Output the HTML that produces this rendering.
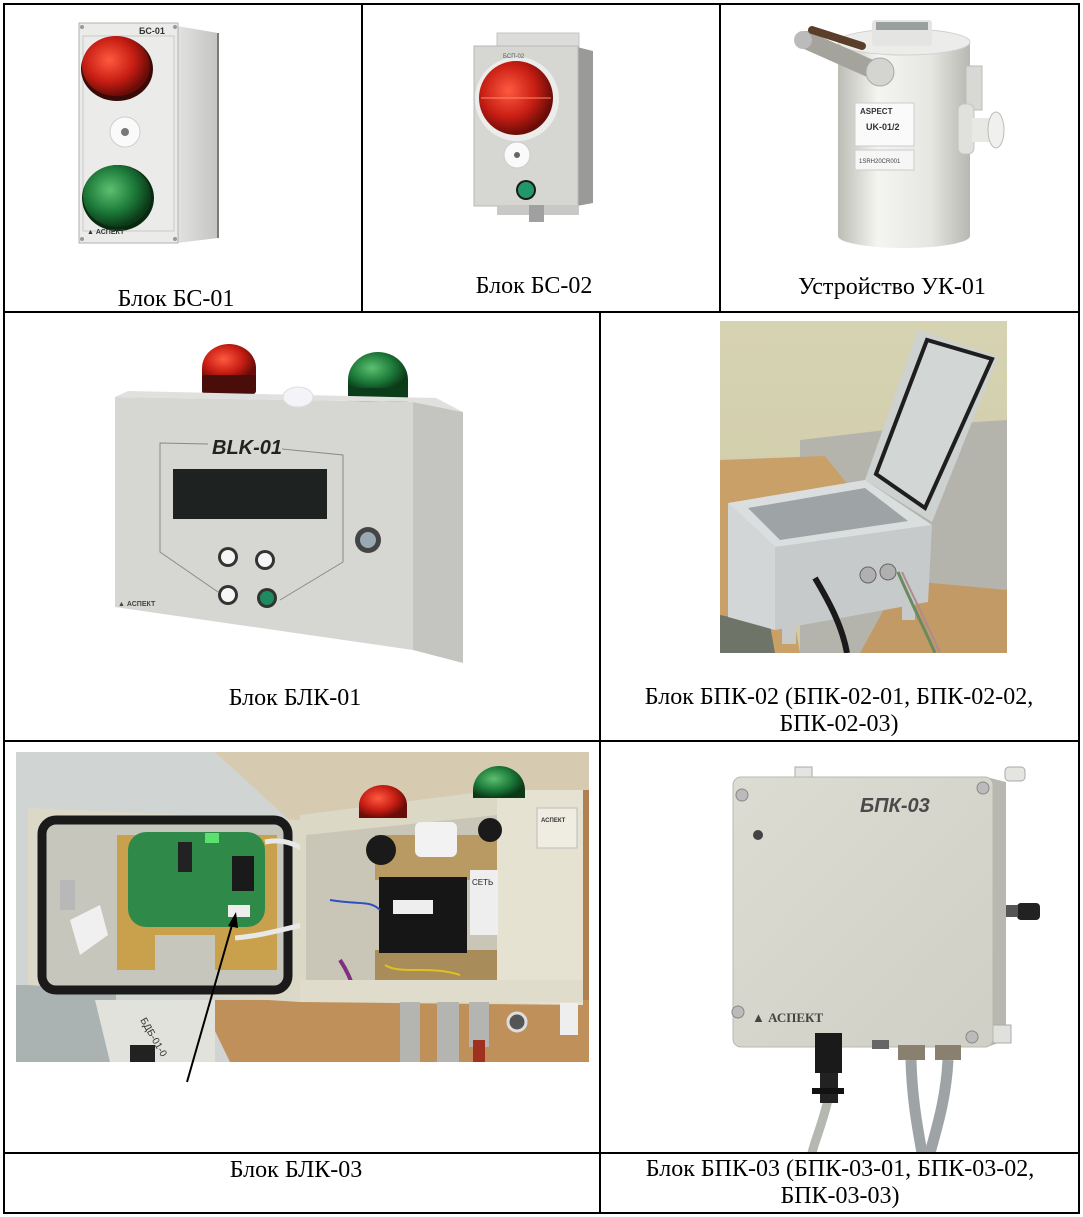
<!DOCTYPE html>
<html><head><meta charset="utf-8">
<style>
html,body{margin:0;padding:0;background:#fff;}
svg{display:block;}
.cap{font-family:"Liberation Serif","Noto Serif CJK SC",serif;font-size:24px;fill:#000;text-anchor:middle;}
.sans{font-family:"Liberation Sans","Noto Sans CJK SC",sans-serif;}
</style></head><body>
<svg width="1083" height="1217" viewBox="0 0 1083 1217" xmlns="http://www.w3.org/2000/svg">
<defs>
 <radialGradient id="rd" cx="0.4" cy="0.4" r="0.6"><stop offset="0" stop-color="#ff5a40"/><stop offset="0.6" stop-color="#c81e14"/><stop offset="1" stop-color="#6a0c08"/></radialGradient>
 <radialGradient id="gr" cx="0.4" cy="0.4" r="0.6"><stop offset="0" stop-color="#5cc070"/><stop offset="0.6" stop-color="#1d7a3a"/><stop offset="1" stop-color="#0b3a18"/></radialGradient>
 <linearGradient id="cyl" x1="0" x2="1"><stop offset="0" stop-color="#bdbdb6"/><stop offset="0.3" stop-color="#f4f4f0"/><stop offset="0.7" stop-color="#e6e6e2"/><stop offset="1" stop-color="#b8b8b2"/></linearGradient>
 <linearGradient id="wall" x1="0" y1="0" x2="0" y2="1"><stop offset="0" stop-color="#d6d3b2"/><stop offset="1" stop-color="#cfcaa8"/></linearGradient>
 <linearGradient id="side1" x1="0" x2="1"><stop offset="0" stop-color="#e2e2e0"/><stop offset="1" stop-color="#c4c4c2"/></linearGradient>
 <linearGradient id="bpk" x1="0" y1="0" x2="1" y2="1"><stop offset="0" stop-color="#dcdcd2"/><stop offset="1" stop-color="#cfcfc5"/></linearGradient>
 <clipPath id="c5"><rect x="720" y="321" width="287" height="332"/></clipPath>
 <clipPath id="c6"><rect x="16" y="752" width="573" height="310"/></clipPath>
</defs>

<!-- ===== Cell 1: BS-01 ===== -->
<polygon points="177,26 218,33 218,238 177,243" fill="url(#side1)"/>
<line x1="218" y1="33" x2="218" y2="238" stroke="#7a7a7a" stroke-width="2"/>
<rect x="79" y="23" width="99" height="220" fill="#ebebea" stroke="#b0b0b0"/>
<rect x="83" y="36" width="91" height="195" fill="none" stroke="#cacaca"/>
<circle cx="82" cy="27" r="2" fill="#999"/><circle cx="175" cy="27" r="2" fill="#999"/>
<circle cx="82" cy="239" r="2" fill="#999"/><circle cx="175" cy="239" r="2" fill="#999"/>
<text x="139" y="34" class="sans" font-size="9" font-weight="bold" fill="#333">БС-01</text>
<ellipse cx="117" cy="69" rx="36" ry="32" fill="#3a0a08"/>
<ellipse cx="116" cy="66" rx="34" ry="30" fill="url(#rd)"/>
<circle cx="125" cy="132" r="15" fill="#fafafa" stroke="#cfcfcf"/><circle cx="125" cy="132" r="4" fill="#777"/>
<ellipse cx="118" cy="198" rx="36" ry="33" fill="#0a2a10"/>
<ellipse cx="117" cy="196" rx="34" ry="31" fill="url(#gr)"/>
<text x="87" y="234" class="sans" font-size="7" font-weight="bold" fill="#333">▲ АСПЕКТ</text>
<text x="176" y="306" class="cap">Блок БС-01</text>

<!-- ===== Cell 2: BS-02 ===== -->
<rect x="497" y="33" width="82" height="16" fill="#dcdcda" stroke="#c4c4c4"/>
<polygon points="577,47 593,51 593,203 577,206" fill="#9a9a98"/>
<rect x="474" y="46" width="104" height="160" fill="#d6d6d3" stroke="#b8b8b8"/>
<rect x="497" y="205" width="82" height="10" fill="#c8c8c6"/>
<rect x="529" y="205" width="15" height="17" fill="#a0a0a0"/>
<circle cx="517" cy="99" r="42" fill="#ececea"/>
<circle cx="516" cy="98" r="37" fill="url(#rd)"/>
<line x1="481" y1="98" x2="551" y2="98" stroke="#ff8a70" stroke-width="1"/>
<circle cx="517" cy="155" r="13" fill="#fafafa" stroke="#ccc"/><circle cx="517" cy="155" r="3" fill="#666"/>
<circle cx="526" cy="190" r="10" fill="#1a1a1a"/><circle cx="526" cy="190" r="8" fill="#22986a"/>
<text x="503" y="58" class="sans" font-size="6" fill="#555">БСП-02</text>
<text x="534" y="293" class="cap">Блок БС-02</text>

<!-- ===== Cell 3: UK-01 ===== -->
<path d="M838,42 L838,236 A66,12 0 0 0 970,236 L970,42 Z" fill="url(#cyl)"/>
<ellipse cx="904" cy="42" rx="66" ry="13" fill="#ececea" stroke="#d0d0d0"/>
<rect x="872" y="20" width="60" height="26" fill="#e4e4e2" rx="3"/>
<rect x="876" y="22" width="52" height="8" fill="#9aa0a0"/>
<rect x="966" y="66" width="16" height="44" fill="#d8d8d4" stroke="#bbb"/>
<rect x="958" y="104" width="16" height="50" rx="6" fill="#e0e0dc" stroke="#c4c4c0"/>
<rect x="972" y="118" width="18" height="24" fill="#e8e8e4"/>
<ellipse cx="996" cy="130" rx="8" ry="18" fill="#f0f0ee" stroke="#bbb"/>
<line x1="806" y1="40" x2="878" y2="72" stroke="#a4a49c" stroke-width="18" stroke-linecap="round"/>
<line x1="812" y1="30" x2="862" y2="46" stroke="#5a3e2a" stroke-width="8" stroke-linecap="round"/>
<circle cx="803" cy="40" r="9" fill="#bbb"/>
<circle cx="880" cy="72" r="14" fill="#d4d4d0" stroke="#aaa"/>
<rect x="855" y="103" width="59" height="43" fill="#fafafa" stroke="#ccc"/>
<text x="860" y="114" class="sans" font-size="8" font-weight="bold" fill="#333">ASPECT</text>
<text x="866" y="130" class="sans" font-size="9" font-weight="bold" fill="#333">UK-01/2</text>
<rect x="855" y="150" width="59" height="20" fill="#f6f6f6" stroke="#ccc"/>
<text x="859" y="163" class="sans" font-size="6" fill="#444">1SRH20CR001</text>
<text x="892" y="294" class="cap">Устройство УК-01</text>

<!-- ===== Cell 4: BLK-01 ===== -->
<path d="M202,382 L202,368 A27,24 0 0 1 256,368 L256,382 Z" fill="url(#rd)"/>
<rect x="202" y="375" width="54" height="19" rx="3" fill="#4a0e0a"/>
<path d="M348,392 L348,380 A30,28 0 0 1 408,380 L408,392 Z" fill="url(#gr)"/>
<rect x="348" y="388" width="60" height="22" rx="3" fill="#0c3d1a"/>
<polygon points="413,402 463,412 463,663 413,650" fill="#c4c4c0"/>
<polygon points="115,397 413,402 413,650 115,607" fill="#d6d6d3"/>
<polygon points="115,397 128,391 436,398 463,412 413,402" fill="#e0e0de"/>
<ellipse cx="298" cy="397" rx="15" ry="10" fill="#f4f4f8" stroke="#ddd"/>
<polyline points="208,444 160,443 160,552 218,592" fill="none" stroke="#8a8a8a" stroke-width="1"/>
<polyline points="282,449 343,455 343,562 280,600" fill="none" stroke="#8a8a8a" stroke-width="1"/>
<text x="212" y="454" class="sans" font-size="20" font-weight="bold" font-style="italic" fill="#222">BLK-01</text>
<rect x="173" y="469" width="154" height="50" fill="#1e2220"/>
<circle cx="228" cy="557" r="10" fill="#333"/><circle cx="228" cy="557" r="7" fill="#f6f6f6"/>
<circle cx="265" cy="560" r="10" fill="#333"/><circle cx="265" cy="560" r="7" fill="#f6f6f6"/>
<circle cx="228" cy="595" r="10" fill="#333"/><circle cx="228" cy="595" r="7" fill="#f6f6f6"/>
<circle cx="267" cy="598" r="10" fill="#333"/><circle cx="267" cy="598" r="7" fill="#1f8a60"/>
<circle cx="368" cy="540" r="13" fill="#444"/><circle cx="368" cy="540" r="8" fill="#9aa8b4"/>
<text x="118" y="606" class="sans" font-size="7" font-weight="bold" fill="#444">▲ АСПЕКТ</text>
<text x="295" y="705" class="cap">Блок БЛК-01</text>

<!-- ===== Cell 5: BPK-02 photo ===== -->
<g clip-path="url(#c5)">
 <rect x="720" y="321" width="287" height="332" fill="url(#wall)"/>
 <polygon points="800,440 928,425 1007,420 1007,653 800,653" fill="#b4b4ac"/>
 <polygon points="720,460 825,456 860,500 760,540 720,560" fill="#c9a068"/>
 <polygon points="720,540 780,540 800,653 720,653" fill="#c9a068"/>
 <polygon points="900,580 1007,590 1007,653 860,653" fill="#c29a66"/>
 <polygon points="720,615 770,625 775,653 720,653" fill="#6f7468"/>
 <polygon points="728,503 775,547 775,630 728,617" fill="#d2d6d6"/>
 <polygon points="775,547 932,525 928,602 775,630" fill="#c6caca"/>
 <polygon points="728,503 865,480 932,525 775,547" fill="#dadede"/>
 <polygon points="748,508 865,488 908,521 780,540" fill="#9ea4a6"/>
 <rect x="782" y="620" width="14" height="24" fill="#c6caca"/>
 <rect x="902" y="598" width="13" height="22" fill="#c6caca"/>
 <polygon points="865,480 918,330 998,357 932,522" fill="#cdd1d0"/>
 <polygon points="876,474 927,340 992,359 925,508" fill="#d2d6d5" stroke="#1e1e1e" stroke-width="4"/>
 <path d="M815,578 C828,600 842,625 847,653" fill="none" stroke="#1a1a1a" stroke-width="6"/>
 <circle cx="868" cy="575" r="8" fill="#b0b0b0" stroke="#666"/>
 <circle cx="888" cy="572" r="8" fill="#b0b0b0" stroke="#666"/>
 <path d="M898,572 C910,600 925,630 935,653" fill="none" stroke="#6a8a60" stroke-width="3"/>
 <path d="M902,572 C915,600 930,630 940,653" fill="none" stroke="#b08a90" stroke-width="2"/>
</g>
<text x="839" y="704" class="cap">Блок БПК-02 (БПК-02-01, БПК-02-02,</text>
<text x="839" y="731" class="cap">БПК-02-03)</text>

<!-- ===== Cell 6: BLK-03 photo ===== -->
<g clip-path="url(#c6)">
 <rect x="16" y="752" width="573" height="310" fill="#d0d4d2"/>
 <polygon points="215,752 589,752 589,1000 300,1000 300,830" fill="#d6cbb0"/>
 <polygon points="583,790 589,790 589,1062 583,1062" fill="#b08050"/>
 <polygon points="200,1000 589,1000 589,1062 230,1062" fill="#c0905a"/>
 <rect x="16" y="985" width="100" height="77" fill="#aab2b2"/>
 <polygon points="95,1000 215,1000 215,1062 110,1062" fill="#e2e2dc"/>
 <text x="140" y="1020" class="sans" font-size="10" fill="#333" transform="rotate(60 140 1020)">БДБ-01-0</text>
 <rect x="130" y="1045" width="25" height="17" fill="#222"/>
 <polygon points="28,808 300,820 300,1002 28,985" fill="#dcd8c8"/>
 <rect x="42" y="820" width="246" height="170" rx="14" fill="#c6c6bc" stroke="#1a1a1a" stroke-width="9"/>
 <rect x="117" y="835" width="160" height="135" fill="#c9a04c"/>
 <rect x="155" y="935" width="60" height="40" fill="#c6c6bc"/>
 <rect x="128" y="832" width="137" height="95" rx="18" fill="#2f8a4a"/>
 <rect x="178" y="842" width="14" height="30" fill="#222"/>
 <rect x="232" y="856" width="22" height="35" fill="#1a1a1a"/>
 <rect x="228" y="905" width="22" height="12" fill="#eee"/>
 <rect x="205" y="833" width="14" height="10" fill="#5ce070"/>
 <rect x="60" y="880" width="15" height="30" fill="#b8b8b8"/>
 <polygon points="70,920 100,905 108,935 80,955" fill="#f0f0f0"/>
 <path d="M265,842 C285,838 300,845 318,860" fill="none" stroke="#e8e8e8" stroke-width="5"/>
 <path d="M235,938 C270,935 295,925 320,922" fill="none" stroke="#e8e8e8" stroke-width="5"/>
 <!-- box -->
 <polygon points="300,815 497,790 583,790 583,1005 300,1002" fill="#dcd8c6"/>
 <polygon points="306,835 497,815 497,980 306,985" fill="#c9c6b8"/>
 <rect x="375" y="835" width="122" height="45" fill="#b89a62"/>
 <rect x="375" y="950" width="122" height="30" fill="#a88c5a"/>
 <polygon points="497,790 583,790 583,1005 497,1002" fill="#e6e2d2"/>
 <rect x="537" y="808" width="40" height="40" fill="#efece2" stroke="#bbb"/>
 <text x="541" y="822" class="sans" font-size="6" font-weight="bold" fill="#333">АСПЕКТ</text>
 <rect x="379" y="877" width="88" height="76" fill="#161616"/>
 <rect x="393" y="900" width="40" height="14" fill="#eee"/>
 <rect x="415" y="822" width="42" height="35" rx="6" fill="#f2f2f2"/>
 <circle cx="381" cy="850" r="15" fill="#1a1a1a"/>
 <circle cx="490" cy="830" r="12" fill="#1a1a1a"/>
 <rect x="470" y="870" width="28" height="65" fill="#eeeeee"/>
 <text x="472" y="885" class="sans" font-size="8" fill="#222">СЕТЬ</text>
 <path d="M330,900 C360,905 370,900 380,910" fill="none" stroke="#3050c0" stroke-width="2"/>
 <path d="M385,965 C400,975 430,965 460,975" fill="none" stroke="#e0c020" stroke-width="2"/>
 <path d="M340,960 C350,975 352,985 356,995" fill="none" stroke="#803080" stroke-width="4"/>
 <rect x="300" y="980" width="283" height="22" fill="#e0dccc"/>
 <path d="M359,805 A24,20 0 0 1 407,805 L407,818 L359,818 Z" fill="url(#rd)"/>
 <path d="M473,790 A26,24 0 0 1 525,790 L525,798 L473,798 Z" fill="url(#gr)"/>
 <rect x="400" y="1002" width="20" height="60" fill="#b4b4b0"/>
 <rect x="437" y="1002" width="22" height="60" fill="#b4b4b0"/>
 <rect x="469" y="1002" width="20" height="45" fill="#b4b4b0"/>
 <rect x="473" y="1040" width="12" height="22" fill="#a03020"/>
 <rect x="560" y="1003" width="18" height="32" fill="#eeeeee"/>
 <circle cx="517" cy="1022" r="9" fill="#555" stroke="#ddd" stroke-width="3"/>
</g>
<line x1="187" y1="1082" x2="234" y2="918" stroke="#000" stroke-width="2"/>
<polygon points="236,912 228,926 238,928" fill="#000"/>
<text x="296" y="1177" class="cap">Блок БЛК-03</text>

<!-- ===== Cell 7: BPK-03 ===== -->
<rect x="795" y="767" width="17" height="12" fill="#e4e4e0" stroke="#aaa"/>
<rect x="1005" y="767" width="20" height="14" rx="4" fill="#e4e4e0" stroke="#aaa"/>
<polygon points="990,778 1006,782 1006,1040 990,1046" fill="#b8b8b0"/>
<rect x="993" y="1025" width="18" height="18" fill="#e0e0dc" stroke="#aaa"/>
<rect x="733" y="777" width="260" height="270" rx="8" fill="url(#bpk)" stroke="#b8b8b0"/>
<rect x="1017" y="903" width="23" height="17" rx="4" fill="#222"/>
<rect x="1006" y="905" width="12" height="12" fill="#555"/>
<circle cx="742" cy="795" r="6" fill="#bbb" stroke="#888"/>
<circle cx="983" cy="788" r="6" fill="#bbb" stroke="#888"/>
<circle cx="738" cy="1012" r="6" fill="#bbb" stroke="#888"/>
<circle cx="972" cy="1037" r="6" fill="#bbb" stroke="#888"/>
<circle cx="758" cy="835" r="5" fill="#444"/>
<text x="860" y="812" class="sans" font-size="20" font-weight="bold" font-style="italic" fill="#4a4a4a">БПК-03</text>
<text x="752" y="1022" font-family="Liberation Serif, serif" font-size="13" font-weight="bold" fill="#444">▲ АСПЕКТ</text>
<rect x="872" y="1040" width="17" height="9" fill="#666"/>
<path d="M828,1100 C822,1125 815,1140 812,1153" fill="none" stroke="#b5b8b0" stroke-width="9"/>
<path d="M911,1060 C912,1100 918,1130 922,1153" fill="none" stroke="#9ea4a6" stroke-width="11"/>
<path d="M948,1060 C946,1100 936,1130 930,1153" fill="none" stroke="#9ea4a6" stroke-width="11"/>
<rect x="815" y="1033" width="27" height="40" fill="#1a1a1a"/>
<rect x="820" y="1073" width="18" height="30" fill="#222"/>
<rect x="812" y="1088" width="32" height="6" fill="#111"/>
<rect x="898" y="1045" width="27" height="15" fill="#8a8070"/>
<rect x="935" y="1045" width="26" height="15" fill="#8a8070"/>
<text x="840" y="1176" class="cap">Блок БПК-03 (БПК-03-01, БПК-03-02,</text>
<text x="840" y="1203" class="cap">БПК-03-03)</text>

<!-- ===== Table grid ===== -->
<g stroke="#000" stroke-width="2" fill="none">
 <rect x="4" y="4" width="1075" height="1209"/>
 <line x1="4" y1="312" x2="1079" y2="312"/>
 <line x1="4" y1="741" x2="1079" y2="741"/>
 <line x1="4" y1="1153" x2="1079" y2="1153"/>
 <line x1="362" y1="4" x2="362" y2="312"/>
 <line x1="720" y1="4" x2="720" y2="312"/>
 <line x1="600" y1="312" x2="600" y2="1213"/>
</g>
</svg>
</body></html>
